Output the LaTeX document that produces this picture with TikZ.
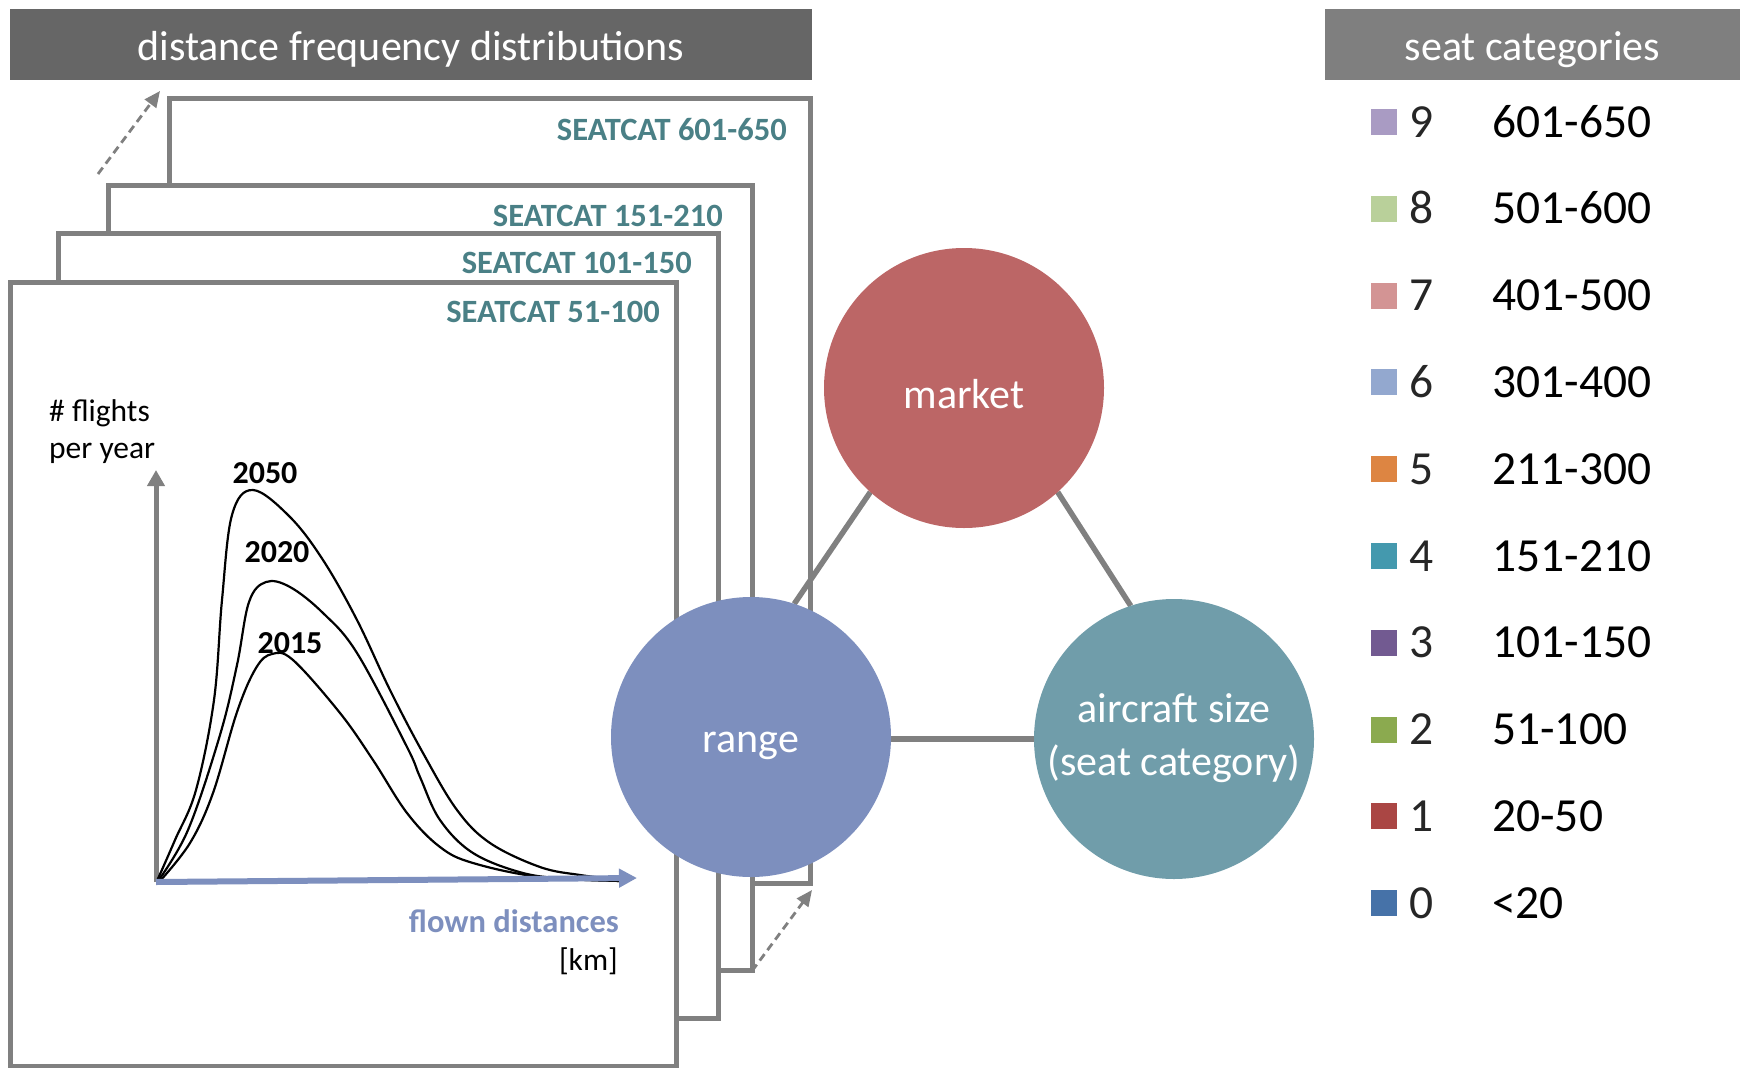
\documentclass[tikz,border=0pt]{standalone}
\usepackage{fontspec}
\setmainfont{Carlito}
\usetikzlibrary{arrows.meta,calc}

\definecolor{framegray}{HTML}{808080}
\definecolor{barA}{HTML}{666666}
\definecolor{barB}{HTML}{7F7F7F}
\definecolor{seatteal}{HTML}{4A8086}
\definecolor{marketred}{HTML}{BC6666}
\definecolor{rangeblue}{HTML}{7D8FBE}
\definecolor{sizeteal}{HTML}{709DAA}
\definecolor{axisblue}{HTML}{7D8FBE}
\definecolor{cat9}{HTML}{A99BC3}
\definecolor{cat8}{HTML}{B9D09A}
\definecolor{cat7}{HTML}{D39494}
\definecolor{cat6}{HTML}{93A8CF}
\definecolor{cat5}{HTML}{DD8542}
\definecolor{cat4}{HTML}{4499AE}
\definecolor{cat3}{HTML}{725A91}
\definecolor{cat2}{HTML}{8BAA4F}
\definecolor{cat1}{HTML}{AA4644}
\definecolor{cat0}{HTML}{4672A8}

\begin{document}
\begin{tikzpicture}[x=1pt,y=-1pt,
  headbar/.style={rectangle, inner sep=0pt, outer sep=0pt, minimum height=71pt,
    text=white, font=\fontsize{42}{50}\selectfont, text height=31pt, text depth=0pt},
  sheet/.style={rectangle, draw=framegray, fill=white, line width=5pt,
    inner sep=0pt, outer sep=0pt},
  sheetlabel/.style={anchor=base east, inner sep=0pt, text=seatteal,
    font=\fontsize{32.5}{38}\selectfont\bfseries},
  hint/.style={draw=framegray, line width=2.8pt, dash pattern=on 8pt off 5pt,
    -{Triangle[length=16pt,width=14pt]}},
  bubble/.style={circle, minimum size=280pt, inner sep=0pt, outer sep=0pt},
  bubbletext/.style={anchor=base, inner sep=0pt, text=white,
    font=\fontsize{42}{50}\selectfont},
  link/.style={draw=framegray, line width=5.5pt},
  yaxis/.style={draw=framegray, line width=5pt, -{Triangle[length=16pt,width=17pt]}},
  xaxis/.style={draw=axisblue, line width=6pt, -{Triangle[length=18pt,width=18pt]}},
  curve/.style={draw=black, line width=2.2pt, line join=round},
  yearlbl/.style={inner sep=0pt, font=\fontsize{32}{38}\selectfont\bfseries},
  plottext/.style={inner sep=0pt, font=\fontsize{31.5}{37}\selectfont},
  legsq/.style={rectangle, minimum width=26pt, minimum height=26pt, inner sep=0pt},
  legtxt/.style={anchor=base west, inner sep=0pt, font=\fontsize{47.5}{56}\selectfont}
]
\useasboundingbox (0,0) rectangle (1740,1068);

% header bars
\node[headbar, fill=barA, minimum width=802pt] (hdist) at (411,44.5)
  {distance frequency distributions};
\node[headbar, fill=barB, minimum width=415pt] (hseat) at (1532.5,44.5)
  {seat categories};

% stacked sheets, back to front
\node[sheet, minimum width=641pt, minimum height=785pt] (f4) at (489.5,490.5) {};
\node[sheet, minimum width=644pt, minimum height=785pt] (f3) at (430,577.5) {};
\node[sheet, minimum width=660pt, minimum height=785pt] (f2) at (388,625.5) {};
\node[sheet, minimum width=666pt, minimum height=784pt] (f1) at (343,674) {};

\node[sheetlabel] (l4) at (787,140) {SEATCAT 601-650};
\node[sheetlabel] (l3) at (723,226) {SEATCAT 151-210};
\node[sheetlabel] (l2) at (692,273) {SEATCAT 101-150};
\node[sheetlabel] (l1) at (660,322) {SEATCAT 51-100};

% stacking hints
\coordinate (hintAs) at ($(f3.north west)+(-10,-11)$);
\coordinate (hintAe) at ($(f4.north west)+(-9,-7)$);
\draw[hint] (hintAs) -- (hintAe);
\coordinate (hintBs) at ($(f3.south east)+(0,1)$);
\coordinate (hintBe) at ($(f4.south east)+(2,7)$);
\draw[hint] (hintBs) -- (hintBe);

% distribution plot
\coordinate (origin) at (156,882);
\coordinate (ytip) at (156,470);
\coordinate (xtip) at (637,878);
\draw[yaxis] (origin) -- (ytip);

\draw[curve] plot[smooth, tension=0.6] coordinates {
  (157,881) (175,840) (196,790) (214,700) (222,600) (232,515) (253,490)
  (290,517) (323,560) (357,620) (390,690) (423,753) (457,810) (490,843)
  (540,867) (580,875) (622,880)};
\draw[curve] plot[smooth, tension=0.6] coordinates {
  (158,881) (188,830) (220,735) (237,665) (249,602) (266,582) (290,587)
  (323,613) (357,653) (407,747) (420,777) (440,820) (473,853) (523,873)
  (570,879) (622,881)};
\draw[curve] plot[smooth, tension=0.6] coordinates {
  (160,881) (190,843) (213,793) (237,712) (256,668) (272,654) (293,660)
  (340,713) (373,760) (407,813) (440,847) (473,863) (540,877) (622,881)};

\draw[xaxis] (origin) -- (xtip);

\node[yearlbl] (y2050) at (265,473) {2050};
\node[yearlbl] (y2020) at (277,552) {2020};
\node[yearlbl] (y2015) at (290,643) {2015};

\node[plottext, anchor=base west] (ylab1) at (49,421) {\# flights};
\node[plottext, anchor=base west] (ylab2) at (49,458) {per year};
\node[plottext, anchor=base east, text=axisblue, font=\fontsize{32.5}{38}\selectfont\bfseries]
  (xlab1) at (619,932) {flown distances};
\node[plottext, anchor=base east] (xlab2) at (618,970) {[km]};

% relation triangle
\node[bubble] (market) at (964,388) {};
\node[bubble] (range) at (751,737) {};
\node[bubble] (acsize) at (1174,739) {};
\draw[link] (range.72) -- (market.228);
\draw[link] (market.312) -- (acsize.108);
\draw[link] (range.east |- acsize.west) -- (acsize.west);
\fill[marketred] (market) circle (140);
\fill[rangeblue] (range) circle (140);
\fill[sizeteal] (acsize) circle (140);

\node[bubbletext] (marketlbl) at (964,408) {market};
\node[bubbletext] (rangelbl) at (751,752) {range};
\node[bubbletext] (acsize1) at (1174,722) {aircraft size};
\node[bubbletext] (acsize2) at (1174,775) {(seat category)};

% seat category legend
\foreach \i/\rng in {9/601-650,8/501-600,7/401-500,6/301-400,5/211-300,
                     4/151-210,3/101-150,2/51-100,1/20-50,0/{<20}} {
  \pgfmathsetmacro{\yc}{122+86.8*(9-\i)}
  \pgfmathsetmacro{\yb}{137+86.8*(9-\i)}
  \node[legsq, fill=cat\i] (sq\i) at (1384,\yc) {};
  \node[legtxt, text=black!85] (dg\i) at (1409,\yb) {\i};
  \node[legtxt] (rg\i) at (1492,\yb) {\rng};
}
\end{tikzpicture}
\end{document}
